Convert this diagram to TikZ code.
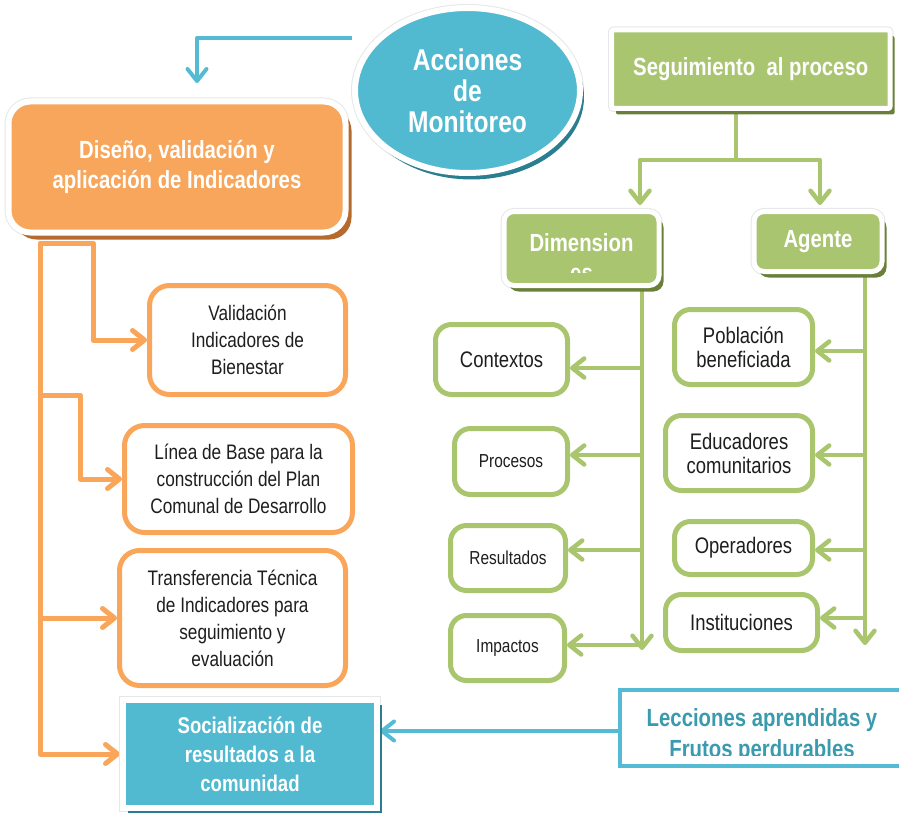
\documentclass[tikz,border=0pt]{standalone}
\usepackage{fontspec}
\setmainfont{Liberation Sans}[FakeStretch=0.82]
\usetikzlibrary{arrows.meta,shapes.geometric,shadows,backgrounds}
\definecolor{orL}{HTML}{F9A65A}
\definecolor{orF}{HTML}{F7A65B}
\definecolor{orS}{HTML}{B66A2C}
\definecolor{grL}{HTML}{A9C66F}
\definecolor{grF}{HTML}{A9C570}
\definecolor{grS}{HTML}{6A7F3A}
\definecolor{blF}{HTML}{51B9D0}
\definecolor{blL}{HTML}{55BBD4}
\definecolor{blS}{HTML}{2A7E90}
\definecolor{blT}{HTML}{3A9AAE}
\definecolor{txt}{HTML}{1E1E1E}
\definecolor{rim}{HTML}{E4E8E8}
\begin{document}
\begin{tikzpicture}[x=1pt,y=-1pt,
  bigw/.style={font=\fontsize{24.8}{30}\selectfont\bfseries, text=white, align=center},
  obox/.style={draw=orL, line width=5pt, rounded corners=20pt, fill=white, inner sep=0pt,
    align=center, text=txt, font=\fontsize{21}{27}\selectfont},
  gbox/.style={draw=grL, line width=5pt, rounded corners=16pt, fill=white, inner sep=0pt,
    align=center, text=txt, font=\fontsize{22.5}{24}\selectfont},
  gsmall/.style={gbox, font=\fontsize{18.8}{22}\selectfont},
  gfill/.style={fill=grF, draw=white, line width=5pt, inner sep=0pt, bigw,
    preaction={draw=rim, line width=7pt},
    general shadow={fill=grS, shadow xshift=4.5pt, shadow yshift=-6pt}},
  barbtip/.style={-{Straight Barb[length=12pt,width=19pt,round]}},
  oarr/.style={draw=orL, line width=5pt, line join=round, barbtip},
  garr/.style={draw=grL, line width=4.5pt, line join=round, barbtip},
  gline/.style={draw=grL, line width=4.5pt},
  barr/.style={draw=blL, line width=4pt, line join=round, barbtip}]
\useasboundingbox (0,0) rectangle (899,813);
\clip (0,0) rectangle (899,813);

% ---- filled main nodes
\node[ellipse, minimum width=225pt, minimum height=165pt, inner sep=0pt,
  fill=blF, draw=white, line width=6pt,
  preaction={draw=rim, line width=8pt},
  general shadow={fill=blS, shadow xshift=4pt, shadow yshift=-6.5pt},
  font=\fontsize{30}{31}\selectfont\bfseries, text=white, align=center]
  (acc) at (467.5,90.5) {Acciones\\de\\Monitoreo};

\node[rectangle, rounded corners=22pt, minimum width=337pt, minimum height=131pt, inner sep=0pt,
  fill=orF, draw=white, line width=6pt,
  preaction={draw=rim, line width=8pt},
  general shadow={fill=orS, shadow xshift=6pt, shadow yshift=-7pt}, bigw]
  (dis) at (177,167) {Diseño, validación y\\aplicación de Indicadores};

\node[gfill, rectangle, rounded corners=2pt, minimum width=278.5pt, minimum height=78.5pt]
  (seg) at (750.75,69.25) {Seguimiento\ \ al proceso};

\node[gfill, rectangle, rounded corners=10pt, minimum width=155pt, minimum height=74pt]
  (dim) at (581.5,248.5) {};
\begin{scope}
  \clip (506,214) rectangle (657,272);
  \node[bigw] (dimt) at (581.5,258) {Dimension\\es};
\end{scope}

\node[gfill, rectangle, rounded corners=10pt, minimum width=128pt, minimum height=60pt]
  (age) at (818,241.5) {Agente};

% ---- orange boxes
\node[obox, minimum width=196pt, minimum height=109pt] (val) at (247.5,340)
  {Validación\\Indicadores de\\Bienestar};
\node[obox, minimum width=228pt, minimum height=107pt] (lin) at (238.5,479)
  {Línea de Base para la\\construcción del Plan\\Comunal de Desarrollo};
\node[obox, minimum width=226pt, minimum height=135pt] (tra) at (232.5,618)
  {Transferencia Técnica\\de Indicadores para\\seguimiento y\\evaluación};

% ---- blue boxes
\node[rectangle, minimum width=254pt, minimum height=108pt, inner sep=0pt,
  fill=blF, draw=white, line width=6pt,
  preaction={draw=rim, line width=8pt},
  general shadow={fill=blS, shadow xshift=4.5pt, shadow yshift=-4.5pt},
  font=\fontsize{22.7}{29}\selectfont\bfseries, text=white, align=center]
  (soc) at (250,754) {Socialización de\\resultados a la\\comunidad};

\node[rectangle, minimum width=290pt, minimum height=76pt, inner sep=0pt,
  fill=white, draw=blL, line width=4pt] (lec) at (765,728) {};
\begin{scope}
  \clip (622,692) rectangle (899,755);
  \node[font=\fontsize{24.8}{31}\selectfont\bfseries, text=blT, align=center]
    (lect) at (762,736) {Lecciones aprendidas y\\Frutos perdurables};
\end{scope}

% ---- green boxes
\node[gbox, minimum width=132pt, minimum height=70pt] (con) at (501.5,359.5) {Contextos};
\node[gsmall, minimum width=113pt, minimum height=66pt] (pro) at (511,461.5) {Procesos};
\node[gsmall, minimum width=115pt, minimum height=65pt] (res) at (508,558) {Resultados};
\node[gsmall, minimum width=114pt, minimum height=65pt] (imp) at (507.5,648) {Impactos};
\node[gbox, minimum width=138pt, minimum height=75pt] (pob) at (743.5,347) {Población\\beneficiada};
\node[gbox, minimum width=147pt, minimum height=75pt] (edu) at (739,453) {Educadores\\comunitarios};
\node[gbox, minimum width=138pt, minimum height=53pt] (ope) at (743.5,548) {Operadores};
\node[gbox, minimum width=152pt, minimum height=56pt] (ins) at (741.5,622.5) {Instituciones};

% ---- connectors
\coordinate (oa) at (40,243);
\coordinate (ob) at (93,243);
\coordinate (sj) at (736,160);
\coordinate (dv) at (642,650);
\coordinate (av) at (865,645);
\begin{scope}[on background layer]
  \draw[barr, shorten >=15.5pt] (acc.west |- 0,38) -| ([xshift=20pt]dis.north);
  \draw[barr] (lec.west |- 0,731) -- (soc.east |- 0,731);

  \draw[oarr] (ob) -- (oa) |- (soc.west);
  \draw[oarr] (oa) -- (ob) |- (val.west);
  \draw[oarr] (oa |- 0,395) -- (80,395) |- (lin.west);
  \draw[oarr] (oa |- tra.west) -- (tra.west);

  \draw[gline] (seg.south -| sj) -- (sj);
  \draw[garr, shorten >=4pt] (sj) -| ([xshift=58.5pt]dim.north);
  \draw[garr, shorten >=4pt] (sj) -| ([xshift=2pt]age.north);

  \draw[garr] (dim.south -| dv) -- (dv);
  \draw[garr] (dv |- 0,368) -- (con.east |- 0,368);
  \draw[garr] (dv |- 0,455) -- (pro.east |- 0,455);
  \draw[garr] (dv |- 0,550) -- (res.east |- 0,550);
  \draw[garr] (dv |- 0,645) -- (imp.east |- 0,645);

  \draw[garr] (age.south -| av) -- (av);
  \draw[garr] (av |- 0,351) -- (pob.east |- 0,351);
  \draw[garr] (av |- 0,455) -- (edu.east |- 0,455);
  \draw[garr] (av |- 0,550) -- (ope.east |- 0,550);
  \draw[garr] (av |- 0,618) -- (ins.east |- 0,618);
\end{scope}
\end{tikzpicture}
\end{document}
